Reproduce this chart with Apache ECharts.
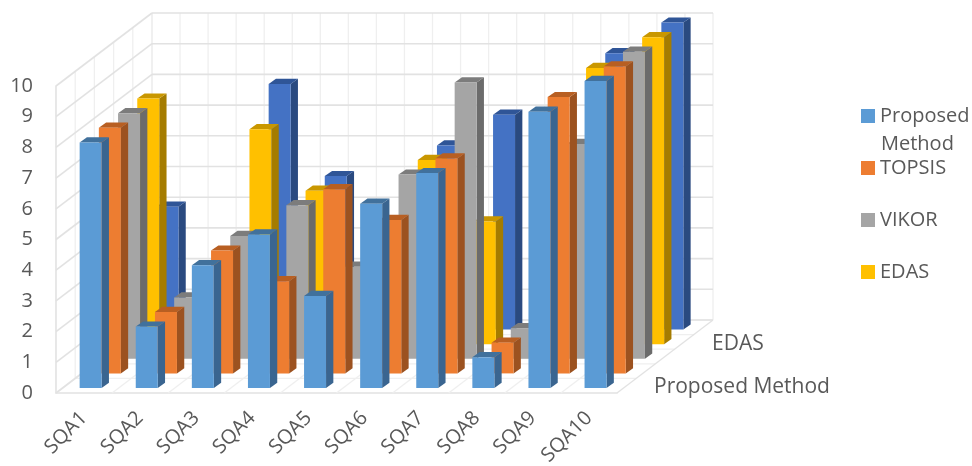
<!DOCTYPE html>
<html>
<head>
<meta charset="utf-8">
<style>html,body{margin:0;padding:0;background:#fff}#c{width:972px;height:466px}</style>
<script src="https://cdn.jsdelivr.net/npm/echarts@6/dist/echarts.min.js"></script>
</head>
<body>
<div id="c"></div>
<script>
const categories = ['SQA1','SQA2','SQA3','SQA4','SQA5','SQA6','SQA7','SQA8','SQA9','SQA10'];
const proposedMethod = [8,2,4,5,3,6,7,1,9,10];
const topsis = [8,2,4,3,6,5,7,1,9,10];
const vikor = [8,2,4,5,3,6,9,1,7,10];
const edas = [8,2,7,5,3,6,4,1,9,10];
const series5 = [4,2,8,5,3,6,7,1,9,10];
const yTicks = [0,1,2,3,4,5,6,7,8,9,10];
const legendNames = ['Proposed Method','TOPSIS','VIKOR','EDAS'];

const FONT = '"Open Sans","Noto Sans",sans-serif';
const TEXT = '#595959';
const LINE = '#e2e2e2';
const LINE_SOFT = '#efefef';
const ROW_DX = 19.2, ROW_DY = 14.6, ROWS = 5;
const BASE_DX = 6.6, BASE_DY = 5;
const BAR_DX = 7.3, BAR_DY = 5.2;
const BAR_FRACTION = 0.392;

function seg(x1,y1,x2,y2,color,w){
  return {type:'line',shape:{x1,y1,x2,y2},style:{stroke:color,lineWidth:w,fill:null}};
}
const depthX = ROWS*ROW_DX, depthY = ROWS*ROW_DY;

function wallByValue(params, api){
  const p = api.coord([0, api.value(1)]);
  const band = api.size([1,0])[0];
  const x0 = p[0]-band/2, y0 = p[1];
  const x1 = x0 + band*categories.length;
  const kids = [
    seg(x0,y0,x0+depthX,y0-depthY,LINE,1.6),
    seg(x0+depthX,y0-depthY,x1+depthX,y0-depthY,LINE,1.6)
  ];
  return {type:'group',children:kids};
}
function wallByCategory(params, api){
  const i = api.value(0);
  const top = api.coord([i,10]), bot = api.coord([i,0]);
  const band = api.size([1,0])[0];
  const kids = [];
  const xs = [bot[0]-band/2, bot[0]];
  if (i === categories.length-1) xs.push(bot[0]+band/2);
  xs.forEach(function(x,j){
    const bx = x+depthX;
    kids.push(seg(bx,top[1]-depthY,bx,bot[1]-depthY,LINE_SOFT,1.3));
    if (j !== 1) kids.push(seg(x,bot[1],bx,bot[1]-depthY,i===categories.length-1&&j===2?LINE:LINE_SOFT,1.3));
  });
  if (i === 0) {
    for (let k=1;k<=ROWS;k++){
      const sx = bot[0]-band/2+k*ROW_DX, sy = bot[1]-k*ROW_DY;
      kids.push(seg(sx,top[1]-k*ROW_DY,sx,sy,LINE_SOFT,1.3));
      kids.push(seg(sx,sy,sx+band*categories.length,sy,LINE_SOFT,1.3));
    }
  }
  return {type:'group',children:kids};
}
function barRenderer(row, colors){
  return function(params, api){
    const t = api.coord([api.value(0), api.value(1)]);
    const b = api.coord([api.value(0), 0]);
    const w = api.size([1,0])[0]*BAR_FRACTION;
    const ox = BASE_DX + row*ROW_DX, oy = BASE_DY + row*ROW_DY;
    const l = t[0]-w/2+ox, r = l+w, ty = t[1]-oy, by = b[1]-oy;
    return {type:'group',children:[
      {type:'polygon',shape:{points:[[r,ty],[r+BAR_DX,ty-BAR_DY],[r+BAR_DX,by-BAR_DY],[r,by]]},style:{fill:colors[1]}},
      {type:'polygon',shape:{points:[[l,ty],[l+BAR_DX,ty-BAR_DY],[r+BAR_DX,ty-BAR_DY],[r,ty]]},style:{fill:colors[2]}},
      {type:'rect',shape:{x:l,y:ty,width:w,height:by-ty},style:{fill:colors[0]}}
    ]};
  };
}
const rows = [
  {name:'Series5',values:series5,colors:['#4472c4','#2a4a80','#2f5597'],row:4},
  {name:'EDAS',values:edas,colors:['#ffc000','#a57c00','#c99700'],row:3},
  {name:'VIKOR',values:vikor,colors:['#a5a5a5','#6b6b6b','#7c7c7c'],row:2},
  {name:'TOPSIS',values:topsis,colors:['#ed7d31','#9c5220','#b85f22'],row:1},
  {name:'Proposed Method',values:proposedMethod,colors:['#5b9bd5','#3a6590','#41719c'],row:0}
];
const series = [
  {type:'custom',name:'wallCat',silent:true,clip:false,renderItem:wallByCategory,encode:{x:0,y:1},
   data:categories.map((c,i)=>[i,0]),z:1},
  {type:'custom',name:'wallVal',silent:true,clip:false,renderItem:wallByValue,encode:{x:0,y:1},
   data:yTicks.map(v=>[0,v]),z:1}
];
rows.forEach(function(r,idx){
  series.push({type:'custom',name:r.name,clip:false,renderItem:barRenderer(r.row,r.colors),
    encode:{x:0,y:1},itemStyle:{color:r.colors[0]},
    data:r.values.map((v,i)=>[i,v]),z:2+idx});
});
const chart = echarts.init(document.getElementById('c'),null,{renderer:'canvas'});
chart.setOption({
  animation:false,
  backgroundColor:'#fff',
  grid:{left:56,top:86,width:561,height:307,containLabel:false,outerBoundsMode:'none'},
  xAxis:{type:'category',data:categories,boundaryGap:true,
    axisTick:{show:false},
    axisLine:{show:true,lineStyle:{color:LINE,width:1.6}},
    axisLabel:{rotate:45,margin:22,interval:0,color:TEXT,fontFamily:FONT,fontSize:20}},
  yAxis:{type:'value',min:0,max:10,interval:1,
    axisTick:{show:false},
    axisLine:{show:true,lineStyle:{color:LINE,width:1.6}},
    splitLine:{show:false},
    axisLabel:{margin:23,color:TEXT,fontFamily:FONT,fontSize:20,padding:[9,0,0,0]}},
  legend:{data:legendNames,orient:'vertical',left:861,top:106,padding:0,itemWidth:14,itemHeight:14,itemGap:32,
    icon:'rect',selectedMode:false,
    formatter:function(n){return n==='Proposed Method'?'Proposed':n;},
    textStyle:{color:TEXT,fontFamily:FONT,fontSize:20}},
  graphic:[
    {type:'text',left:881,top:134,silent:true,style:{text:'Method',fill:TEXT,font:'20px '+FONT}},
    {type:'text',left:712,top:334,silent:true,style:{text:legendNames[3],fill:TEXT,font:'21px '+FONT}},
    {type:'text',left:654,top:377,silent:true,style:{text:legendNames[0],fill:TEXT,font:'21px '+FONT}}
  ],
  series:series
});
</script>
</body>
</html>
